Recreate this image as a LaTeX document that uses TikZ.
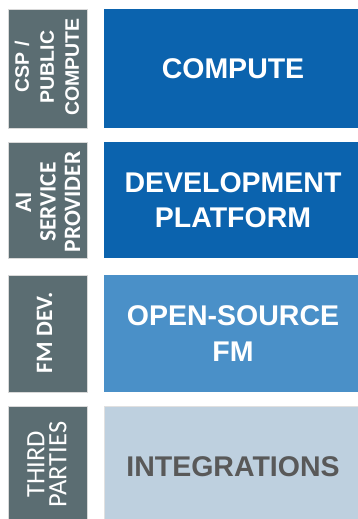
\documentclass[tikz,border=0pt]{standalone}
\usepackage{fontspec}
\setmainfont{Liberation Sans}
\newfontfamily\carlito{Carlito}
\definecolor{sidegrey}{HTML}{5B6D72}
\definecolor{darkblue}{HTML}{0B63AE}
\definecolor{midblue}{HTML}{4A90C8}
\definecolor{paleblue}{HTML}{BED0DF}
\definecolor{darktext}{HTML}{595959}
\tikzset{
  sidebox/.style={fill=sidegrey, draw=black!15, line width=0.4pt, minimum width=79pt, text=white, inner sep=0pt},
  sidetext/.style={rotate=90, text=white, align=center, inner sep=0pt},
  mainbox/.style={minimum width=258pt, inner sep=0pt, align=center, font=\bfseries\fontsize{28.5}{35.5}\selectfont},
}
\begin{document}
\begin{tikzpicture}[x=1pt,y=-1pt]
\useasboundingbox (0,0) rectangle (358,519);
\clip (0,0) rectangle (358,519);
\fill[white] (0,0) rectangle (358,519);
% left column boxes
\node[sidebox, minimum height=119pt] (s1) at (47.5,68.5) {};
\node[sidebox, minimum height=116pt] (s2) at (47.5,200) {};
\node[sidebox, minimum height=117pt] (s3) at (47.5,333.5) {};
\node[sidebox, minimum height=122pt] (s4) at (47.5,467) {};
% left labels
\node[sidetext, font=\bfseries\fontsize{19.5}{25}\selectfont] (l1) at (47,67) {CSP /\\PUBLIC\\COMPUTE};
\node[sidetext, font=\carlito\bfseries\fontsize{23.5}{24.5}\selectfont] (l2) at (48,202) {AI\\SERVICE\\PROVIDER};
\node[sidetext, font=\carlito\bfseries\fontsize{23.5}{24}\selectfont] (l3) at (44.5,333) {FM DEV.};
\node[sidetext, font=\carlito\fontsize{26.5}{22}\selectfont] (l4) at (47,464.5) {THIRD\\PARTIES};
% main boxes
\node[mainbox, fill=darkblue, text=white, minimum height=119pt] (m1) at (233,68.5) {COMPUTE};
\node[mainbox, fill=darkblue, text=white, minimum height=116pt] (m2) at (233,200) {DEVELOPMENT\\PLATFORM};
\node[mainbox, fill=midblue, text=white, minimum height=117pt] (m3) at (233,333.5) {OPEN-SOURCE\\FM};
\node[mainbox, fill=paleblue, text=darktext, draw=black!12, line width=0.4pt, minimum height=122pt] (m4) at (233,467) {INTEGRATIONS};
\end{tikzpicture}
\end{document}
